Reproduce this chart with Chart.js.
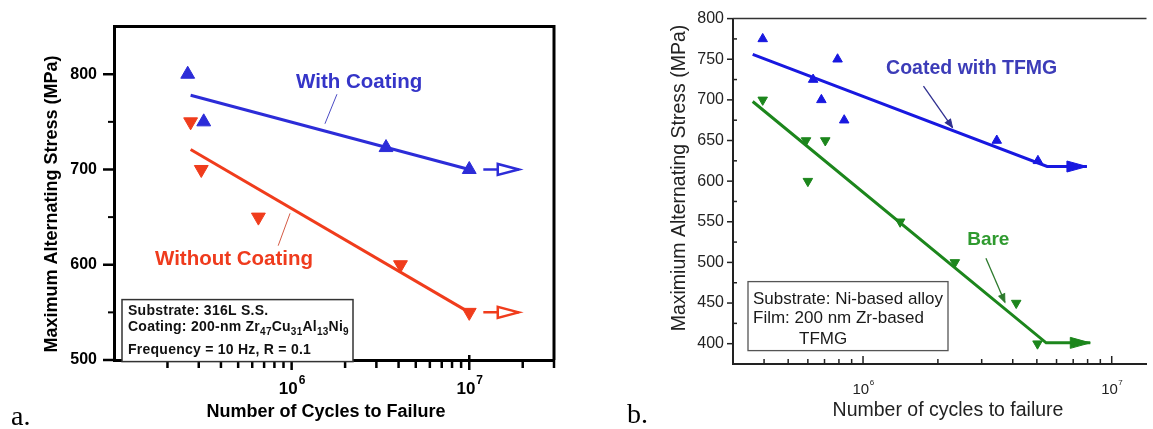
<!DOCTYPE html>
<html>
<head>
<meta charset="utf-8">
<title>Fatigue S-N curves</title>
<script src="https://cdn.jsdelivr.net/npm/chart.js@4.4.0/dist/chart.umd.min.js"></script>
<style>
  html, body { margin: 0; padding: 0; background: #fff; }
  #wrap { position: relative; width: 1153px; height: 429px; overflow: hidden; }
  #chartA { position: absolute; left: 0; top: 0; }
  #chartB { position: absolute; left: 600px; top: 0; }
</style>
</head>
<body>
<div id="wrap">
  <canvas id="chartA" width="600" height="429"></canvas>
  <canvas id="chartB" width="553" height="429"></canvas>
</div>
<script>
(function () {

  "use strict";

  // (a) 316L S.S., with and without the Zr-based film
  var coatedCyclesA = [2.6e5, 3.2e5, 3.4e6, 1.0e7];
  var coatedStressA = [800, 750, 723, 700];
  var bareCyclesA = [2.7e5, 3.1e5, 6.5e5, 4.1e6, 1.0e7];
  var bareStressA = [750, 700, 650, 600, 550];
  var coatedFitCyclesA = [2.7e5, 1.0e7];
  var coatedFitStressA = [778, 700];
  var bareFitCyclesA = [2.7e5, 1.0e7];
  var bareFitStressA = [721, 550];
  var runoutCyclesA = [1.2e7, 1.9e7];
  var yLabelsA = [500, 600, 700, 800];
  var yMinorA = [550, 650, 750];
  var xMajorA = [1e6, 1e7];
  var xMinorA = [2e5, 3e5, 4e5, 5e5, 6e5, 7e5, 8e5, 9e5, 2e6, 3e6, 4e6, 5e6, 6e6, 7e6, 8e6, 9e6, 2e7, 3e7];

  // (b) Ni-based alloy, coated with TFMG and bare
  var coatedCyclesB = [3.95e5, 6.3e5, 6.8e5, 7.9e5, 8.4e5, 3.45e6, 5.05e6];
  var coatedStressB = [775, 725, 700, 750, 675, 650, 625];
  var bareCyclesB = [3.95e5, 5.9e5, 7.05e5, 6.0e5, 1.41e6, 2.34e6, 4.13e6, 5.03e6];
  var bareStressB = [700, 650, 650, 600, 550, 500, 450, 400];
  var coatedFitCyclesB = [3.6e5, 5.5e6, 7.95e6];
  var coatedFitStressB = [756, 618, 618];
  var bareFitCyclesB = [3.6e5, 5.45e6, 8.2e6];
  var bareFitStressB = [698, 401, 401];
  var yLabelsB = [400, 450, 500, 550, 600, 650, 700, 750, 800];
  var yMinorB = [425, 475, 525, 575, 625, 675, 725, 775];
  var xMajorB = [1e6, 1e7];
  var xMinorB = [4e5, 5e5, 6e5, 7e5, 8e5, 9e5, 2e6, 3e6, 4e6, 5e6, 6e6, 7e6, 8e6, 9e6];

  var BLUE_A = '#2c2cd8', RED_A = '#f03c1c';
  var BLUE_B = '#1818e0', GREEN_B = '#1c861c';
  var SANS = '"Liberation Sans", Arial, Helvetica, sans-serif';
  var SERIF = '"Liberation Serif", "Times New Roman", serif';

  function pts(xs, ys) {
    return xs.map(function (x, i) { return { x: x, y: ys[i] }; });
  }

  function arrowHead(ctx, x, y, len, half, color, filled, lw) {
    ctx.beginPath();
    ctx.moveTo(x, y);
    ctx.lineTo(x - len, y - half);
    ctx.lineTo(x - len, y + half);
    ctx.closePath();
    ctx.fillStyle = filled ? color : '#fff';
    ctx.fill();
    ctx.lineWidth = lw;
    ctx.strokeStyle = color;
    ctx.lineJoin = 'miter';
    ctx.stroke();
  }

  // frame, tick marks, power-of-ten labels, titles, notes and arrows
  var figurePlugin = {
    id: 'figure',
    afterDraw: function (chart, args, o) {
      var ctx = chart.ctx, ca = chart.chartArea;
      var sx = chart.scales.x, sy = chart.scales.y;
      ctx.save();

      ctx.strokeStyle = o.frame.color;
      ctx.lineWidth = o.frame.width;
      ctx.lineJoin = 'miter';
      ctx.beginPath();
      ctx.moveTo(ca.left, ca.top);
      ctx.lineTo(ca.right, ca.top);
      if (o.frame.right) ctx.lineTo(ca.right, ca.bottom);
      ctx.stroke();

      o.ticks.forEach(function (t) {
        ctx.strokeStyle = t.color;
        ctx.lineWidth = t.width;
        t.values.forEach(function (v) {
          ctx.beginPath();
          if (t.axis === 'x') {
            var px = sx.getPixelForValue(v);
            ctx.moveTo(px, ca.bottom - t.inner);
            ctx.lineTo(px, ca.bottom + t.outer);
          } else {
            var py = sy.getPixelForValue(v);
            ctx.moveTo(ca.left + t.inner, py);
            ctx.lineTo(ca.left - t.outer, py);
          }
          ctx.stroke();
        });
      });

      var pl = o.powers;
      ctx.textAlign = 'left';
      ctx.textBaseline = 'alphabetic';
      ctx.fillStyle = pl.color;
      pl.values.forEach(function (v) {
        var px = sx.getPixelForValue(v);
        var exp = String(Math.round(Math.log10(v)));
        ctx.font = pl.font;
        var wBase = ctx.measureText('10').width;
        ctx.font = pl.supFont;
        var wSup = ctx.measureText(exp).width;
        var x0 = px - (wBase + wSup) / 2;
        var base = ca.bottom + pl.drop;
        ctx.font = pl.font;
        ctx.fillText('10', x0, base);
        ctx.font = pl.supFont;
        ctx.fillText(exp, x0 + wBase + pl.gap, base - pl.rise);
      });

      o.titles.forEach(function (t) {
        ctx.save();
        ctx.font = t.font;
        ctx.fillStyle = t.color;
        ctx.textAlign = t.align || 'center';
        ctx.translate(t.x, t.y);
        if (t.rotate) ctx.rotate(-Math.PI / 2);
        ctx.fillText(t.text, 0, 0);
        ctx.restore();
      });

      o.leaders.forEach(function (l) {
        var x1 = sx.getPixelForValue(l.x1), y1 = sy.getPixelForValue(l.y1);
        var x2 = sx.getPixelForValue(l.x2), y2 = sy.getPixelForValue(l.y2);
        ctx.strokeStyle = l.color;
        ctx.lineWidth = l.width;
        ctx.beginPath();
        ctx.moveTo(x1, y1);
        ctx.lineTo(x2, y2);
        ctx.stroke();
        if (l.head) {
          var a = Math.atan2(y2 - y1, x2 - x1);
          ctx.save();
          ctx.translate(x2, y2);
          ctx.rotate(a);
          arrowHead(ctx, 0, 0, l.head, l.head * 0.4, l.color, true, 1);
          ctx.restore();
        }
      });

      o.labels.forEach(function (l) {
        ctx.font = l.font;
        ctx.fillStyle = l.color;
        ctx.textAlign = 'center';
        ctx.fillText(l.text, sx.getPixelForValue(l.x), sy.getPixelForValue(l.y));
      });

      o.heads.forEach(function (h) {
        arrowHead(ctx, sx.getPixelForValue(h.x), sy.getPixelForValue(h.y),
          h.len, h.half, h.color, h.filled, h.width);
      });

      o.boxes.forEach(function (b) {
        var bx = ca.left + b.left, by = ca.top + b.top;
        ctx.fillStyle = '#fff';
        ctx.fillRect(bx, by, b.width, b.height);
        ctx.strokeStyle = b.border;
        ctx.lineWidth = b.lineWidth;
        ctx.strokeRect(bx, by, b.width, b.height);
        ctx.fillStyle = b.color;
        ctx.textAlign = 'left';
        if ('letterSpacing' in ctx) ctx.letterSpacing = b.spacing;
        b.lines.forEach(function (ln) {
          var x = bx + (ln.indent || b.pad);
          ln.parts.forEach(function (p) {
            var sub = p[1] === 'sub';
            ctx.font = sub ? b.subFont : b.font;
            ctx.fillText(p[0], x, by + ln.base + (sub ? b.subDrop : 0));
            x += ctx.measureText(p[0]).width;
          });
        });
        if ('letterSpacing' in ctx) ctx.letterSpacing = '0px';
      });

      o.letters.forEach(function (t) {
        ctx.font = t.font;
        ctx.fillStyle = '#000';
        ctx.textAlign = 'left';
        ctx.fillText(t.text, t.x, t.y);
      });

      ctx.restore();
    }
  };

  function markers(xs, ys, color, radius, flip) {
    return {
      data: pts(xs, ys),
      pointStyle: 'triangle',
      rotation: flip ? 180 : 0,
      pointRadius: radius,
      pointBackgroundColor: color,
      pointBorderColor: color,
      pointBorderWidth: 1,
      showLine: false
    };
  }

  function fitLine(xs, ys, color, width) {
    return {
      data: pts(xs, ys),
      showLine: true,
      borderColor: color,
      borderWidth: width,
      pointRadius: 0,
      tension: 0
    };
  }

  var lastCoatedA = coatedStressA[coatedStressA.length - 1];
  var lastBareA = bareStressA[bareStressA.length - 1];

  new Chart(document.getElementById('chartA'), {
    type: 'scatter',
    data: {
      datasets: [
        markers(coatedCyclesA, coatedStressA, BLUE_A, 8, false),
        markers(bareCyclesA, bareStressA, RED_A, 8, true),
        fitLine(coatedFitCyclesA, coatedFitStressA, BLUE_A, 3),
        fitLine(bareFitCyclesA, bareFitStressA, RED_A, 3),
        fitLine(runoutCyclesA, [lastCoatedA, lastCoatedA], BLUE_A, 2.5),
        fitLine(runoutCyclesA, [lastBareA, lastBareA], RED_A, 2.5)
      ]
    },
    options: {
      responsive: false,
      animation: false,
      layout: { padding: { left: 0, top: 16, right: 46, bottom: 0 } },
      scales: {
        x: {
          type: 'logarithmic', min: 1e5, max: 3e7,
          afterFit: function (s) { s.height = 69; },
          grid: { display: true, drawOnChartArea: false, drawTicks: false },
          border: { display: true, color: '#000', width: 3 },
          ticks: { display: false }
        },
        y: {
          min: 500, max: 850,
          afterFit: function (s) { s.width = 114; },
          afterBuildTicks: function (s) { s.ticks = yLabelsA.map(function (v) { return { value: v }; }); },
          grid: { display: true, drawOnChartArea: false, drawTicks: false },
          border: { display: true, color: '#000', width: 3 },
          ticks: { color: '#000', padding: 17, font: { family: SANS, size: 16, weight: 'bold' } }
        }
      },
      plugins: {
        legend: { display: false },
        tooltip: { enabled: false },
        figure: {
          frame: { color: '#000', width: 3, right: true },
          ticks: [
            { axis: 'x', values: xMajorA, inner: 5, outer: 10, width: 2.5, color: '#000' },
            { axis: 'x', values: xMinorA, inner: 0, outer: 8, width: 2.5, color: '#000' },
            { axis: 'y', values: yLabelsA, inner: 0, outer: 11, width: 2.5, color: '#000' },
            { axis: 'y', values: yMinorA, inner: 0, outer: 6, width: 2, color: '#000' }
          ],
          powers: { values: xMajorA, color: '#000', font: 'bold 17px ' + SANS, supFont: 'bold 12px ' + SANS, drop: 34, rise: 10, gap: 1 },
          titles: [
            { text: 'Maximum Alternating Stress (MPa)', x: 57, y: 204, rotate: true, font: 'bold 18px ' + SANS, color: '#000' },
            { text: 'Number of Cycles to Failure', x: 326, y: 417, font: 'bold 18px ' + SANS, color: '#000' }
          ],
          leaders: [
            { x1: 1.8e6, y1: 779, x2: 1.54e6, y2: 748, color: '#4a4ac4', width: 1 },
            { x1: 9.8e5, y1: 654, x2: 8.4e5, y2: 620, color: '#d45a44', width: 1 }
          ],
          labels: [
            { text: 'With Coating', x: 2.4e6, y: 786, font: 'bold 20.5px ' + SANS, color: '#3535c8' },
            { text: 'Without Coating', x: 4.74e5, y: 600, font: 'bold 20.5px ' + SANS, color: '#ef3b1d' }
          ],
          heads: [
            { x: runoutCyclesA[1], y: lastCoatedA, len: 21, half: 5.5, color: BLUE_A, filled: false, width: 2.5 },
            { x: runoutCyclesA[1], y: lastBareA, len: 21, half: 5.5, color: RED_A, filled: false, width: 2.5 }
          ],
          boxes: [{
            left: 8, top: 273, width: 231, height: 62,
            border: '#333', lineWidth: 1.5, color: '#111', pad: 6,
            font: 'bold 14px ' + SANS, subFont: 'bold 10px ' + SANS, subDrop: 4, spacing: '0.25px',
            lines: [
              { base: 15, parts: [['Substrate: 316L S.S.', '']] },
              { base: 31.5, parts: [['Coating: 200-nm Zr', ''], ['47', 'sub'], ['Cu', ''], ['31', 'sub'], ['Al', ''], ['13', 'sub'], ['Ni', ''], ['9', 'sub']] },
              { base: 54, parts: [['Frequency = 10 Hz, R = 0.1', '']] }
            ]
          }],
          letters: [{ text: 'a.', x: 11, y: 425, font: '28px ' + SERIF }]
        }
      }
    },
    plugins: [figurePlugin]
  });

  new Chart(document.getElementById('chartB'), {
    type: 'scatter',
    data: {
      datasets: [
        markers(coatedCyclesB, coatedStressB, BLUE_B, 5.5, false),
        markers(bareCyclesB, bareStressB, GREEN_B, 5.5, true),
        fitLine(coatedFitCyclesB, coatedFitStressB, BLUE_B, 3),
        fitLine(bareFitCyclesB, bareFitStressB, GREEN_B, 3)
      ]
    },
    options: {
      responsive: false,
      animation: false,
      layout: { padding: { left: 0, top: 16, right: 0, bottom: 0 } },
      scales: {
        x: {
          type: 'logarithmic', min: 3e5, max: 1.38e7,
          afterFit: function (s) { s.height = 65; },
          grid: { display: true, drawOnChartArea: false, drawTicks: false },
          border: { display: true, color: '#222', width: 2 },
          ticks: { display: false }
        },
        y: {
          min: 375, max: 800,
          afterFit: function (s) { s.width = 133; },
          afterBuildTicks: function (s) { s.ticks = yLabelsB.map(function (v) { return { value: v }; }); },
          grid: { display: true, drawOnChartArea: false, drawTicks: false },
          border: { display: true, color: '#222', width: 2 },
          ticks: { color: '#222', padding: 9, font: { family: SANS, size: 16 } }
        }
      },
      plugins: {
        legend: { display: false },
        tooltip: { enabled: false },
        figure: {
          frame: { color: '#333', width: 1.5, right: false },
          ticks: [
            { axis: 'x', values: xMajorB, inner: 8, outer: 0, width: 1.5, color: '#222' },
            { axis: 'x', values: xMinorB, inner: 5, outer: 0, width: 1.5, color: '#222' },
            { axis: 'y', values: yLabelsB, inner: 0, outer: 6, width: 1.5, color: '#222' },
            { axis: 'y', values: yMinorB, inner: 4, outer: 0, width: 1.5, color: '#222' }
          ],
          powers: { values: xMajorB, color: '#222', font: '15px ' + SANS, supFont: '8px ' + SANS, drop: 30, rise: 9, gap: 0.5 },
          titles: [
            { text: 'Maximium Alternating Stress (MPa)', x: 85, y: 178, rotate: true, font: '19.5px ' + SANS, color: '#222' },
            { text: 'Number of cycles to failure', x: 348, y: 416, font: '19.5px ' + SANS, color: '#222' }
          ],
          leaders: [
            { x1: 1.75e6, y1: 717, x2: 2.29e6, y2: 666, color: '#303090', width: 1.3, head: 8 },
            { x1: 3.12e6, y1: 505, x2: 3.72e6, y2: 451, color: '#2d7a2d', width: 1.3, head: 8 }
          ],
          labels: [
            { text: 'Coated with TFMG', x: 2.735e6, y: 731.5, font: 'bold 19.5px ' + SANS, color: '#3c3cb8' },
            { text: 'Bare', x: 3.19e6, y: 521.5, font: 'bold 19px ' + SANS, color: '#2f9a2f' }
          ],
          heads: [
            { x: coatedFitCyclesB[2], y: coatedFitStressB[2], len: 20, half: 5.5, color: BLUE_B, filled: true, width: 1 },
            { x: bareFitCyclesB[2], y: bareFitStressB[2], len: 20, half: 5.5, color: GREEN_B, filled: true, width: 1 }
          ],
          boxes: [{
            left: 15, top: 263, width: 200, height: 69,
            border: '#555', lineWidth: 1.3, color: '#1a1a1a', pad: 5,
            font: '17px ' + SANS, subFont: '12px ' + SANS, subDrop: 4, spacing: '0px',
            lines: [
              { base: 22.5, parts: [['Substrate: Ni-based alloy', '']] },
              { base: 41.5, parts: [['Film: 200 nm Zr-based', '']] },
              { base: 62.5, indent: 51, parts: [['TFMG', '']] }
            ]
          }],
          letters: [{ text: 'b.', x: 27, y: 423, font: '28px ' + SERIF }]
        }
      }
    },
    plugins: [figurePlugin]
  });

})();
</script>
</body>
</html>
